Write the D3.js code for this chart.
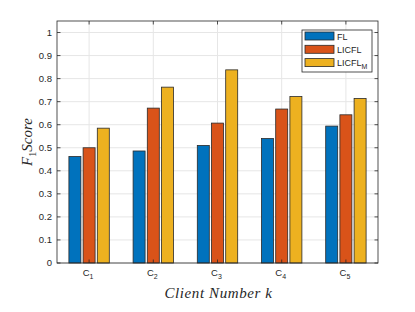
<!DOCTYPE html>
<html>
<head>
<meta charset="utf-8">
<script src="https://cdn.jsdelivr.net/npm/d3@7"></script>
<style>
  body { margin: 0; background: #fff; }
  text { font-family: "Liberation Sans", Arial, sans-serif; fill: #262626; }
</style>
</head>
<body>
<div id="chart"></div>
<script>
var clients = ["1", "2", "3", "4", "5"];
var fl = [0.462, 0.486, 0.510, 0.540, 0.594];
var licfl = [0.500, 0.672, 0.607, 0.668, 0.643];
var licflM = [0.585, 0.763, 0.838, 0.722, 0.714];
var yTicks = [0, 0.1, 0.2, 0.3, 0.4, 0.5, 0.6, 0.7, 0.8, 0.9, 1];

var series = [
  { name: "FL", sub: "", values: fl, color: "#0072BD" },
  { name: "LICFL", sub: "", values: licfl, color: "#D95319" },
  { name: "LICFL", sub: "M", values: licflM, color: "#EDB120" }
];

var W = 415, H = 312;
var axL = 57, axR = 378, axT = 21, axB = 263;

var svg = d3.select("#chart").append("svg").attr("width", W).attr("height", H);

var x = d3.scaleLinear().domain([0.5, 5.5]).range([axL, axR]);
var y = d3.scaleLinear().domain([0, 1.05]).range([axB, axT]);

// grid
svg.append("g").selectAll("line").data(yTicks).join("line")
  .attr("x1", axL).attr("x2", axR)
  .attr("y1", d => y(d)).attr("y2", d => y(d))
  .style("stroke", "#e6e6e6").style("stroke-width", 1);
svg.append("g").selectAll("line").data(clients).join("line")
  .attr("x1", (d, i) => x(i + 1)).attr("x2", (d, i) => x(i + 1))
  .attr("y1", axT).attr("y2", axB)
  .style("stroke", "#e6e6e6").style("stroke-width", 1);

// bars
var barW = 12, step = 14.2;
series.forEach(function (s, si) {
  svg.append("g").selectAll("rect").data(s.values).join("rect")
    .attr("x", (d, i) => x(i + 1) + (si - 1) * step - barW / 2)
    .attr("y", d => y(d))
    .attr("width", barW)
    .attr("height", d => y(0) - y(d))
    .style("fill", s.color)
    .style("stroke", "#2a2a2a")
    .style("stroke-width", 0.8);
});

// box
svg.append("rect").attr("x", axL).attr("y", axT)
  .attr("width", axR - axL).attr("height", axB - axT)
  .style("fill", "none").style("stroke", "#262626").style("stroke-width", 0.8);

// ticks inward
var tl = 3.5;
svg.append("g").selectAll("line").data(yTicks).join("line")
  .attr("x1", axL).attr("x2", axL + tl)
  .attr("y1", d => y(d)).attr("y2", d => y(d))
  .style("stroke", "#262626").style("stroke-width", 0.8);
svg.append("g").selectAll("line").data(yTicks).join("line")
  .attr("x1", axR).attr("x2", axR - tl)
  .attr("y1", d => y(d)).attr("y2", d => y(d))
  .style("stroke", "#262626").style("stroke-width", 0.8);
svg.append("g").selectAll("line").data(clients).join("line")
  .attr("x1", (d, i) => x(i + 1)).attr("x2", (d, i) => x(i + 1))
  .attr("y1", axB).attr("y2", axB - tl)
  .style("stroke", "#262626").style("stroke-width", 0.8);
svg.append("g").selectAll("line").data(clients).join("line")
  .attr("x1", (d, i) => x(i + 1)).attr("x2", (d, i) => x(i + 1))
  .attr("y1", axT).attr("y2", axT + tl)
  .style("stroke", "#262626").style("stroke-width", 0.8);

// y tick labels
svg.append("g").selectAll("text").data(yTicks).join("text")
  .attr("x", axL - 5).attr("y", d => y(d) + 3)
  .attr("text-anchor", "end").style("font-size", "9.5px")
  .text(d => d);

// x tick labels
var xl = svg.append("g").selectAll("text").data(clients).join("text")
  .attr("x", (d, i) => x(i + 1) - 1).attr("y", axB + 13)
  .attr("text-anchor", "middle").style("font-size", "9.5px");
xl.append("tspan").text("C");
xl.append("tspan").attr("dy", 3).style("font-size", "7px").text(d => d);

// axis labels
svg.append("text").attr("x", (axL + axR) / 2 + 1).attr("y", 298)
  .attr("text-anchor", "middle")
  .style("font-family", "'Liberation Serif', 'Times New Roman', serif")
  .style("font-style", "italic").style("font-size", "15px")
  .style("letter-spacing", "0.6px")
  .text("Client Number k");

var ylab = svg.append("text")
  .attr("transform", "translate(32," + ((axT + axB) / 2) + ") rotate(-90)")
  .attr("text-anchor", "middle")
  .style("font-family", "'Liberation Serif', 'Times New Roman', serif")
  .style("font-style", "italic").style("font-size", "15px");
ylab.append("tspan").text("F");
ylab.append("tspan").attr("dy", 3.5).style("font-size", "10px").style("font-style", "normal").text("1");
ylab.append("tspan").attr("dy", -3.5).text("Score");

// legend
var lg = svg.append("g");
lg.append("rect").attr("x", 302).attr("y", 30).attr("width", 70).attr("height", 42)
  .style("fill", "#fff").style("stroke", "#262626").style("stroke-width", 0.8);
var rows = lg.selectAll("g.row").data(series).join("g").attr("class", "row")
  .attr("transform", (d, i) => "translate(0," + (36 + i * 13.3) + ")");
rows.append("rect").attr("x", 305).attr("y", -4).attr("width", 29).attr("height", 8)
  .style("fill", d => d.color).style("stroke", "#2a2a2a").style("stroke-width", 0.8);
var lt = rows.append("text").attr("x", 337).attr("y", 3.5).style("font-size", "9px");
lt.append("tspan").text(d => d.name);
lt.append("tspan").attr("dy", 3).style("font-size", "7px").text(d => d.sub);
</script>
</body>
</html>
